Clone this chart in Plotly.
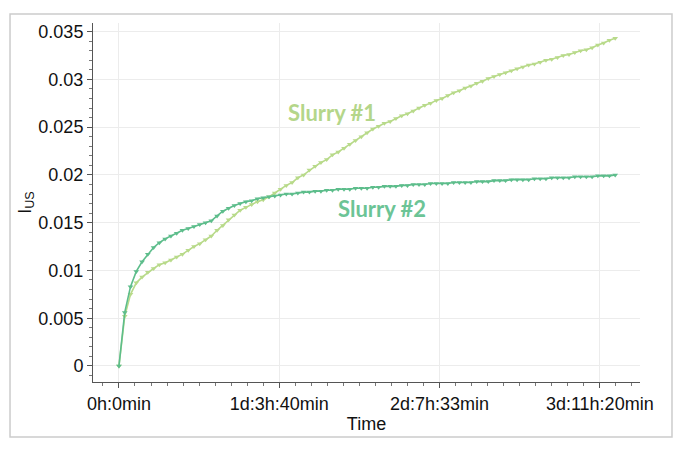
import plotly.graph_objects as go

# hourly readings, time in hours since start
hours = list(range(87))

slurry1 = [
    0.0, 0.0052, 0.0075, 0.0087, 0.0093, 0.0098, 0.0102, 0.0106, 0.0108, 0.0111,
    0.0114, 0.0117, 0.0121, 0.0125, 0.0128, 0.0132, 0.0136, 0.0142, 0.0147, 0.0153,
    0.0158, 0.0163, 0.0166, 0.0169, 0.0172, 0.0174, 0.0177, 0.0181, 0.0185, 0.0189,
    0.0192, 0.0197, 0.0200, 0.0205, 0.0209, 0.0213, 0.0216, 0.0221, 0.0224, 0.0228,
    0.0232, 0.0236, 0.0240, 0.0244, 0.0248, 0.0251, 0.0254, 0.0256, 0.0259, 0.0262,
    0.0264, 0.0267, 0.0270, 0.0273, 0.0275, 0.0278, 0.0280, 0.0283, 0.0286, 0.0288,
    0.0291, 0.0293, 0.0296, 0.0298, 0.0301, 0.0303, 0.0305, 0.0307, 0.0309, 0.0311,
    0.0313, 0.0315, 0.0316, 0.0318, 0.0320, 0.0321, 0.0323, 0.0325, 0.0326, 0.0328,
    0.0330, 0.0331, 0.0333, 0.0336, 0.0338, 0.0341, 0.0343,
]

slurry2 = [
    0.0, 0.0056, 0.0083, 0.0099, 0.0109, 0.0117, 0.0124, 0.0129, 0.0133, 0.0136,
    0.0139, 0.0142, 0.0144, 0.0146, 0.0148, 0.0150, 0.0152, 0.0157, 0.0162, 0.0165,
    0.0168, 0.0170, 0.0172, 0.0173, 0.0175, 0.0176, 0.0177, 0.0178, 0.0179, 0.0180,
    0.0180, 0.0181, 0.0182, 0.0182, 0.0183, 0.0183, 0.0184, 0.0184, 0.0185, 0.0185,
    0.0185, 0.0186, 0.0186, 0.0186, 0.0187, 0.0187, 0.0188, 0.0188, 0.0188, 0.0189,
    0.0189, 0.0190, 0.0190, 0.0190, 0.0191, 0.0191, 0.0191, 0.0191, 0.0192, 0.0192,
    0.0192, 0.0192, 0.0193, 0.0193, 0.0193, 0.0194, 0.0194, 0.0194, 0.0195, 0.0195,
    0.0195, 0.0195, 0.0196, 0.0196, 0.0196, 0.0197, 0.0197, 0.0197, 0.0197, 0.0198,
    0.0198, 0.0198, 0.0198, 0.0199, 0.0199, 0.0199, 0.0200,
]

# labelled ticks every 27.78 h, unlabelled gridlines half way between
x_tickvals = [0, 27.78, 55.56, 83.33]
x_ticktext = ["0h:0min", "1d:3h:40min", "2d:7h:33min", "3d:11h:20min"]
x_midgrid = [13.89, 41.67, 69.44]

X_RANGE = [-4.5, 90.3]
C1 = "#b8da8a"
C2 = "#5dbd8b"
AXIS = "#555555"
GRID = "#ececec"
FONT = "Liberation Sans, Arial, sans-serif"

fig = go.Figure()
fig.add_scatter(x=hours, y=slurry1, mode="lines+markers", name="Slurry #1",
                line=dict(color=C1, width=1.6),
                marker=dict(symbol="triangle-down", size=5, color=C1))
fig.add_scatter(x=hours, y=slurry2, mode="lines+markers", name="Slurry #2",
                line=dict(color=C2, width=1.6),
                marker=dict(symbol="triangle-down", size=5, color=C2))

fig.add_annotation(x=36.9, y=0.0265, text="<b>Slurry #1</b>", showarrow=False,
                   font=dict(family="Lato, Open Sans, sans-serif", size=22, color="#b4d68a"))
fig.add_annotation(x=45.6, y=0.01646, text="<b>Slurry #2</b>", showarrow=False,
                   font=dict(family="Lato, Open Sans, sans-serif", size=22, color="#6cc496"))

# outer frame
fig.add_shape(type="rect", xref="paper", yref="paper",
              x0=-0.1517, x1=1.0585, y0=-0.1532, y1=1.0251,
              line=dict(color="#cccccc", width=1.5), layer="below")

# page body adds an 8px offset, margins compensate for it
fig.update_layout(
    width=684, height=450,
    margin=dict(l=85, r=52, t=15, b=76, autoexpand=False),
    paper_bgcolor="white", plot_bgcolor="white",
    showlegend=False,
    font=dict(family=FONT, size=18, color="#111111"),
    xaxis=dict(
        range=X_RANGE, tickmode="array", tickvals=x_tickvals, ticktext=x_ticktext,
        showgrid=True, gridcolor=GRID, gridwidth=1, zeroline=False, automargin=False,
        showline=True, linecolor=AXIS, linewidth=1,
        ticks="outside", ticklen=5, tickcolor=AXIS,
        minor=dict(dtick=2.778, tick0=0, ticks="outside", ticklen=3,
                   tickcolor="#777777", showgrid=False),
        title=dict(text="Time", font=dict(size=18), standoff=4),
        tickfont=dict(size=18),
    ),
    xaxis2=dict(
        overlaying="x", range=X_RANGE, side="bottom", anchor="y",
        tickmode="array", tickvals=x_midgrid, showticklabels=False, automargin=False,
        showgrid=True, gridcolor=GRID, zeroline=False, showline=False,
        ticks="outside", ticklen=5, tickcolor=AXIS,
    ),
    yaxis=dict(
        range=[-0.00168, 0.0359], dtick=0.005, tick0=0,
        showgrid=True, gridcolor=GRID, gridwidth=1, zeroline=False, automargin=False,
        showline=True, linecolor=AXIS, linewidth=1,
        ticks="outside", ticklen=5, tickcolor=AXIS,
        minor=dict(dtick=0.001, ticks="outside", ticklen=3,
                   tickcolor="#777777", showgrid=False),
        title=dict(text="I<sub>US</sub>", font=dict(size=18), standoff=2),
        tickfont=dict(size=18),
    ),
)

fig.write_html("out.html")
